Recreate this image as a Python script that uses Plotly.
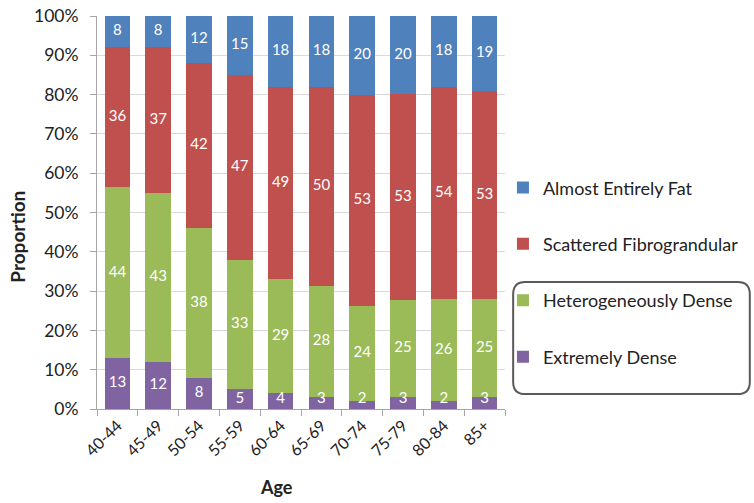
import numpy as np
import plotly.graph_objects as go

ages = ["40-44", "45-49", "50-54", "55-59", "60-64", "65-69", "70-74", "75-79", "80-84", "85+"]
extremely_dense = [13, 12, 8, 5, 4, 3, 2, 3, 2, 3]
heterogeneously_dense = [44, 43, 38, 33, 29, 28, 24, 25, 26, 25]
scattered = [36, 37, 42, 47, 49, 50, 53, 53, 54, 53]
almost_fat = [8, 8, 12, 15, 18, 18, 20, 20, 18, 19]
y_ticks = [0, 10, 20, 30, 40, 50, 60, 70, 80, 90, 100]

series = [
    ("Extremely Dense", extremely_dense, "#8064A2"),
    ("Heterogeneously Dense", heterogeneously_dense, "#9BBB59"),
    ("Scattered Fibrograndular", scattered, "#C0504D"),
    ("Almost Entirely Fat", almost_fat, "#4F81BD"),
]

FONT = "Lato, 'Open Sans', sans-serif"

# each column is scaled to 100 %, then the labels sit at the middle of each segment
stack = np.array([s[1] for s in series], dtype=float)
share = stack / stack.sum(axis=0) * 100
tops = share.cumsum(axis=0)
mids = np.maximum(tops - share / 2, 2.4)

fig = go.Figure()
n = len(series)
for i, ((name, vals, color), pct) in enumerate(zip(series, share)):
    fig.add_trace(go.Bar(
        x=ages, y=pct, name=name, legendgroup=name, legendrank=n - i,
        marker=dict(color=color, line=dict(width=0)),
        hovertext=[str(v) for v in vals],
    ))

for (name, vals, color), mid in zip(series, mids):
    fig.add_trace(go.Scatter(
        x=ages, y=mid, mode="text", text=[str(v) for v in vals],
        textfont=dict(color="white", size=15, family=FONT),
        showlegend=False, hoverinfo="skip", cliponaxis=False,
    ))

fig.update_layout(
    barmode="stack", bargap=0.37,
    width=754, height=503,
    margin=dict(l=97, r=249, t=16, b=94, autoexpand=False),
    paper_bgcolor="white", plot_bgcolor="white",
    font=dict(family=FONT, color="#222"),
    legend=dict(
        x=0.995, y=0.61, xanchor="left", yanchor="top",
        traceorder="grouped", tracegroupgap=30,
        font=dict(size=18, family=FONT, color="#222"),
        itemwidth=30, bgcolor="rgba(0,0,0,0)",
    ),
    xaxis=dict(
        tickangle=-45, tickfont=dict(size=16, family=FONT),
        showline=True, linecolor="#a6a6a6", linewidth=1,
        ticks="outside", tickson="boundaries", ticklen=6, tickcolor="#a6a6a6",
        showgrid=False, automargin=False,
    ),
    yaxis=dict(
        range=[0, 100], tickvals=y_ticks, ticktext=[f"{v}%" for v in y_ticks],
        tickfont=dict(size=17.5, family=FONT), ticklabelstandoff=8,
        showline=True, linecolor="#a6a6a6", linewidth=1,
        ticks="outside", ticklen=6, tickcolor="#a6a6a6",
        showgrid=True, gridcolor="#d9d9d9", gridwidth=1,
        zeroline=False, automargin=False,
    ),
    annotations=[
        dict(text="<b>Proportion</b>", textangle=-90, x=-0.194, y=0.438,
             xref="paper", yref="paper", showarrow=False,
             xanchor="center", yanchor="middle",
             font=dict(size=19, family=FONT, color="#222")),
        dict(text="<b>Age</b>", x=0.441, y=-0.198,
             xref="paper", yref="paper", showarrow=False,
             xanchor="center", yanchor="middle",
             font=dict(size=18, family=FONT, color="#222")),
    ],
)

# rounded frame around the two densest categories in the legend
x0, x1, y0, y1 = 1.02, 1.60, 0.038, 0.323
rx, ry = 0.03, 0.031
path = (
    f"M {x0+rx},{y1} L {x1-rx},{y1} Q {x1},{y1} {x1},{y1-ry} "
    f"L {x1},{y0+ry} Q {x1},{y0} {x1-rx},{y0} "
    f"L {x0+rx},{y0} Q {x0},{y0} {x0},{y0+ry} "
    f"L {x0},{y1-ry} Q {x0},{y1} {x0+rx},{y1} Z"
)
fig.add_shape(type="path", path=path, xref="paper", yref="paper",
              line=dict(color="#595959", width=2), fillcolor="rgba(0,0,0,0)")

fig.write_html("out.html")
